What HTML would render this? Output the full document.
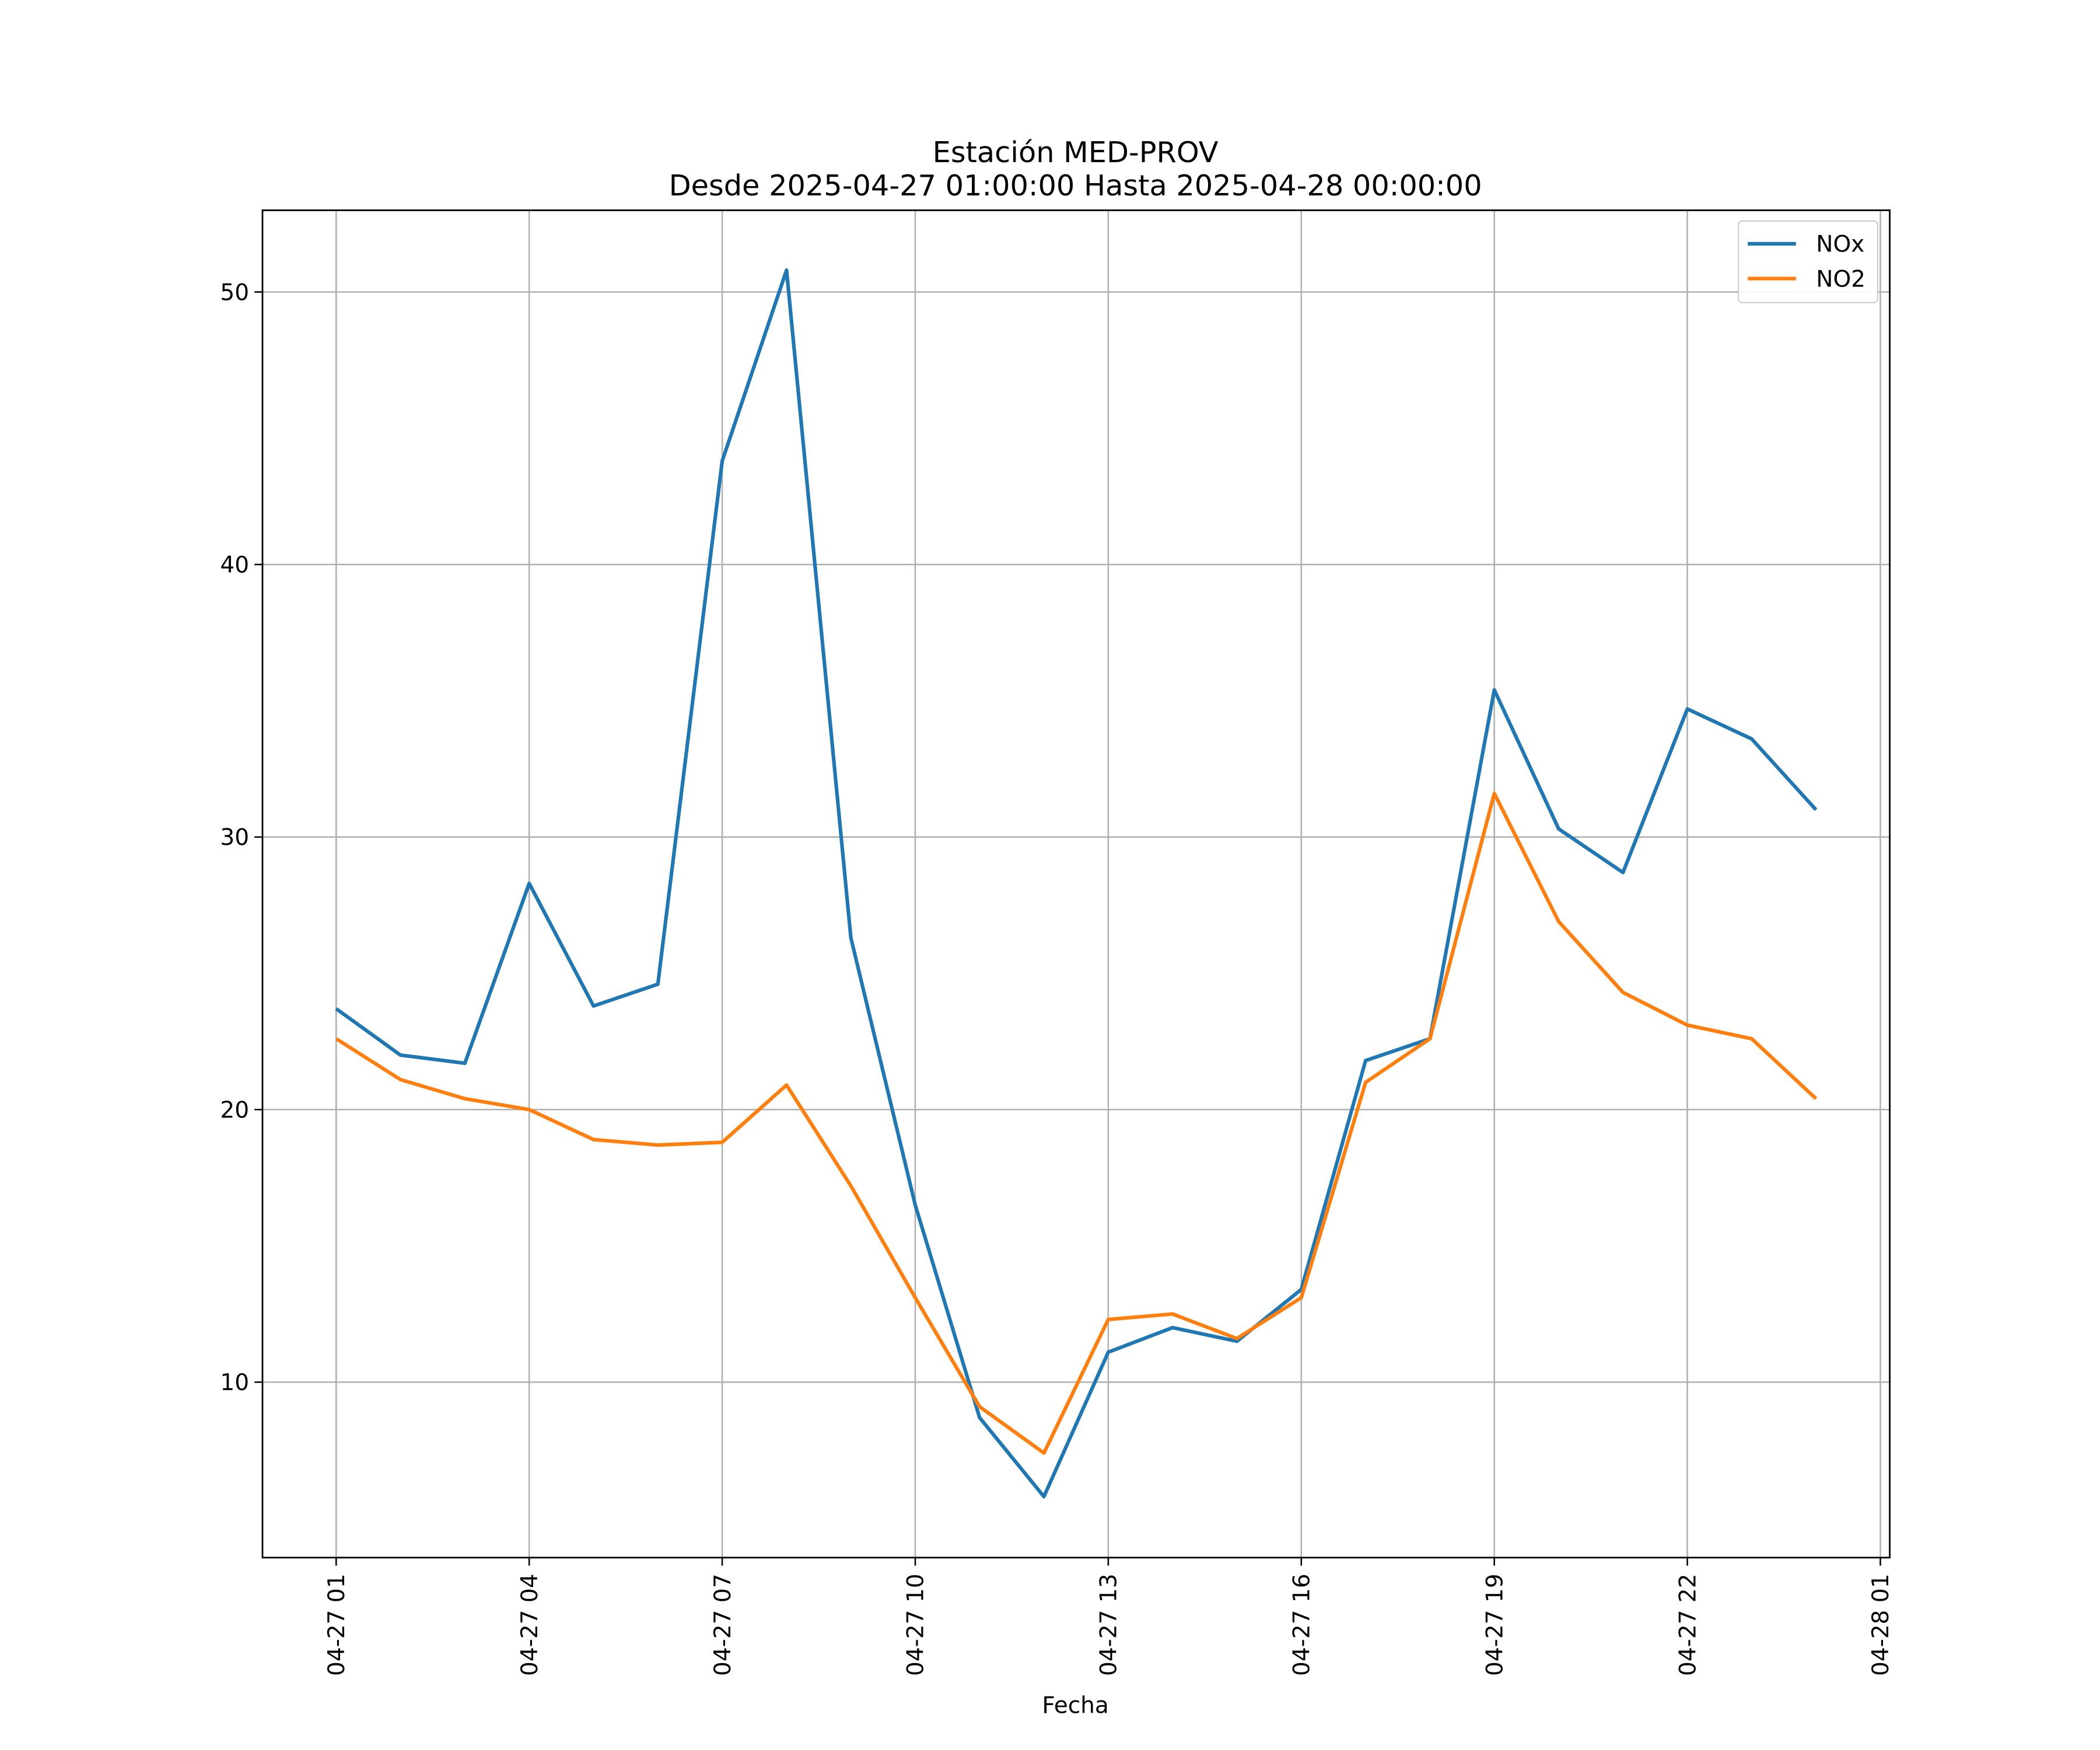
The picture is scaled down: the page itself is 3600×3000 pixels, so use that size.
<!DOCTYPE html>
<html><head><meta charset="utf-8"><style>html,body{margin:0;padding:0;background:#fff}svg{display:block}text{font-family:"DejaVu Sans","Liberation Sans",sans-serif;fill:#000}</style></head>
<body>
<svg id="chart" width="3600" height="3000" viewBox="0 0 1568 1306.67" preserveAspectRatio="none" xmlns="http://www.w3.org/2000/svg">
<rect width="1568" height="1307" fill="#fff"/>
<text x="803" y="121" font-size="21.5" text-anchor="middle">Estación MED-PROV</text>
<text x="803" y="146" font-size="21.5" text-anchor="middle">Desde 2025-04-27 01:00:00 Hasta 2025-04-28 00:00:00</text>
<g id="grid"></g>
<g id="series"></g>
<rect x="196" y="157" width="1215" height="1006" fill="none" stroke="#000" stroke-width="1.2"/>
<g id="axes"></g>
<text x="803" y="1279" font-size="17" text-anchor="middle">Fecha</text>
<g>
<rect x="1298" y="165" width="104" height="61" rx="3" fill="#fff" stroke="#ccc" stroke-width="1" opacity="0.9"/>
<line x1="1305" y1="182" x2="1341" y2="182" stroke="#1f77b4" stroke-width="2.7"/>
<text x="1356" y="188" font-size="17">NOx</text>
<line x1="1305" y1="208" x2="1341" y2="208" stroke="#ff7f0e" stroke-width="2.7"/>
<text x="1356" y="214" font-size="17">NO2</text>
</g>
</svg>
<script>
const hours = [1,2,3,4,5,6,7,8,9,10,11,12,13,14,15,16,17,18,19,20,21,22,23,24];
const noxValues = [23.7,22.0,21.7,28.3,23.8,24.6,43.8,50.8,26.3,16.5,8.7,5.8,11.1,12.0,11.5,13.4,21.8,22.6,35.4,30.3,28.7,34.7,33.6,31.0];
const no2Values = [22.6,21.1,20.4,20.0,18.9,18.7,18.8,20.9,17.2,13.1,9.1,7.4,12.3,12.5,11.6,13.1,21.0,22.6,31.6,26.9,24.3,23.1,22.6,20.4];
const xTickHours = [1,4,7,10,13,16,19,22,25];
const xTickLabels = ["04-27 01","04-27 04","04-27 07","04-27 10","04-27 13","04-27 16","04-27 19","04-27 22","04-28 01"];
const yTicks = [10,20,30,40,50];

const NS="http://www.w3.org/2000/svg";
const X0=196,X1=1411,Y0=157,Y1=1163;
function xs(h){return 251+(h-1)*(1404-251)/24;}
function ys(v){return 1032-(v-10)*(1032-218)/40;}
function mk(tag,attrs,parent){const e=document.createElementNS(NS,tag);for(const k in attrs)e.setAttribute(k,attrs[k]);parent.appendChild(e);return e;}
const grid=document.getElementById('grid'),axes=document.getElementById('axes'),series=document.getElementById('series');
xTickHours.forEach((h,i)=>{const x=xs(h);
 const g=mk('line',{x1:x,x2:x,y1:Y0,y2:Y1,stroke:'#b0b0b0','stroke-width':1.1},grid);
 
 
 const t=mk('line',{x1:x,x2:x,y1:Y1,y2:Y1+6,stroke:'#000','stroke-width':1.1},axes);
 
 
 const l=mk('text',{x:0,y:0,'font-size':17,'text-anchor':'end',transform:`translate(${x+6},${Y1+12}) rotate(-90)`},axes);
 l.textContent=xTickLabels[i];
 
 
});
yTicks.forEach(v=>{const y=ys(v);
 const g=mk('line',{x1:X0,x2:X1,y1:y,y2:y,stroke:'#b0b0b0','stroke-width':1.1},grid);
 
 
 const t=mk('line',{x1:X0-6,x2:X0,y1:y,y2:y,stroke:'#000','stroke-width':1.1},axes);
 
 
 const l=mk('text',{x:X0-10,y:y+6,'font-size':17,'text-anchor':'end'},axes);
 l.textContent=String(v);
 
 
});
function line(vals,color,name){
 const p=mk('polyline',{points:vals.map((v,i)=>xs(hours[i])+','+ys(v)).join(' '),fill:'none',stroke:color,'stroke-width':2.7,'stroke-linejoin':'round'},series);
 
 
}
line(noxValues,'#1f77b4','nox-line');
line(no2Values,'#ff7f0e','no2-line');
</script>
</body></html>
